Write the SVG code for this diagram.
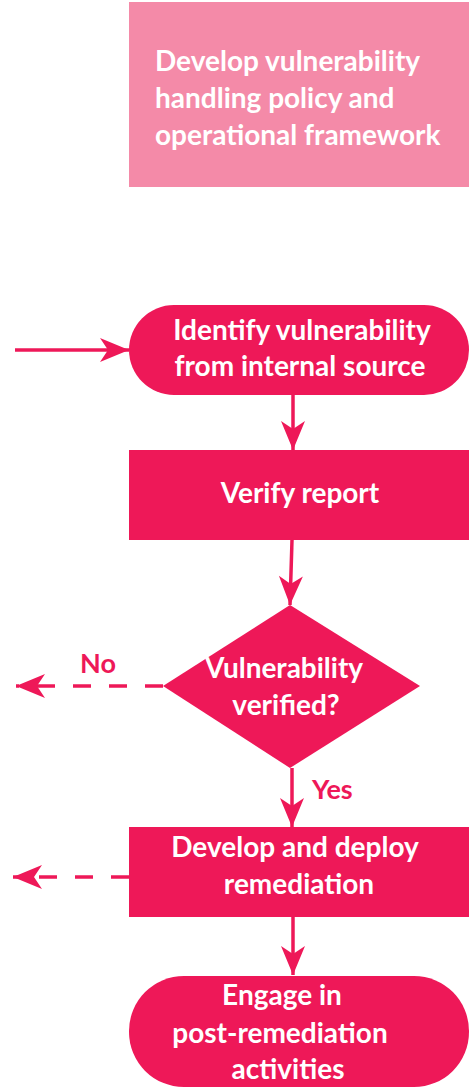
<svg xmlns="http://www.w3.org/2000/svg" width="476" height="1091" viewBox="0 0 476 1091">
<style>
.n{fill:#EE1858}
.t{font-family:Lato,"Noto Sans","Liberation Sans",sans-serif;font-weight:bold;font-size:28px;fill:#fff}
.c{text-anchor:middle}
.l{font-family:Lato,"Noto Sans","Liberation Sans",sans-serif;font-weight:bold;font-size:27px;fill:#EE1858}
.e{stroke:#EE1858;stroke-width:3.5;fill:none}
.d{stroke-dasharray:18 18}
</style>
<defs>
<marker id="ah" markerUnits="userSpaceOnUse" viewBox="-30 -13 32 26" refX="0" refY="0" markerWidth="32" markerHeight="26" orient="auto">
<path d="M0,0 L-29,-12 L-21,0 L-29,12 Z" fill="#EE1858"/>
</marker>
</defs>
<rect width="476" height="1091" fill="#fff"/>
<g id="policy">
<rect x="129" y="2" width="340" height="185" fill="#F48AA8"/>
<text class="t" x="155" y="71">Develop vulnerability</text>
<text class="t" x="155" y="108">handling policy and</text>
<text class="t" x="155" y="145">operational framework</text>
</g>
<g id="connectors">
<line class="e" x1="15" y1="350" x2="129" y2="350" marker-end="url(#ah)"/>
<line class="e" x1="293" y1="395" x2="293" y2="450" marker-end="url(#ah)"/>
<line class="e" x1="292" y1="540" x2="290" y2="605" marker-end="url(#ah)"/>
<line class="e d" x1="163" y1="686" x2="16" y2="686" marker-end="url(#ah)"/>
<line class="e" x1="292" y1="768" x2="292" y2="827" marker-end="url(#ah)"/>
<line class="e d" x1="129" y1="877" x2="13" y2="877" marker-end="url(#ah)"/>
<line class="e" x1="293" y1="917" x2="293" y2="975" marker-end="url(#ah)"/>
<text class="l" x="80" y="673">No</text>
<text class="l" x="312" y="799">Yes</text>
</g>
<g id="identify">
<rect class="n" x="129" y="305" width="340" height="90" rx="45"/>
<text class="t c" x="302" y="340">Identify vulnerability</text>
<text class="t c" x="300" y="376">from internal source</text>
</g>
<g id="verify">
<rect class="n" x="129" y="450" width="340" height="90"/>
<text class="t c" x="300" y="503">Verify report</text>
</g>
<g id="decision">
<polygon class="n" points="290,605 420,686 290,768 163,686"/>
<text class="t c" x="284" y="678">Vulnerability</text>
<text class="t c" x="286" y="715">verified?</text>
</g>
<g id="remediate">
<rect class="n" x="129" y="827" width="340" height="90"/>
<text class="t c" x="295" y="857">Develop and deploy</text>
<text class="t c" x="299" y="894">remediation</text>
</g>
<g id="post">
<rect class="n" x="129" y="976" width="340" height="111" rx="55"/>
<text class="t c" x="282" y="1005">Engage in</text>
<text class="t c" x="280" y="1043">post-remediation</text>
<text class="t c" x="288" y="1079">activities</text>
</g>
</svg>
